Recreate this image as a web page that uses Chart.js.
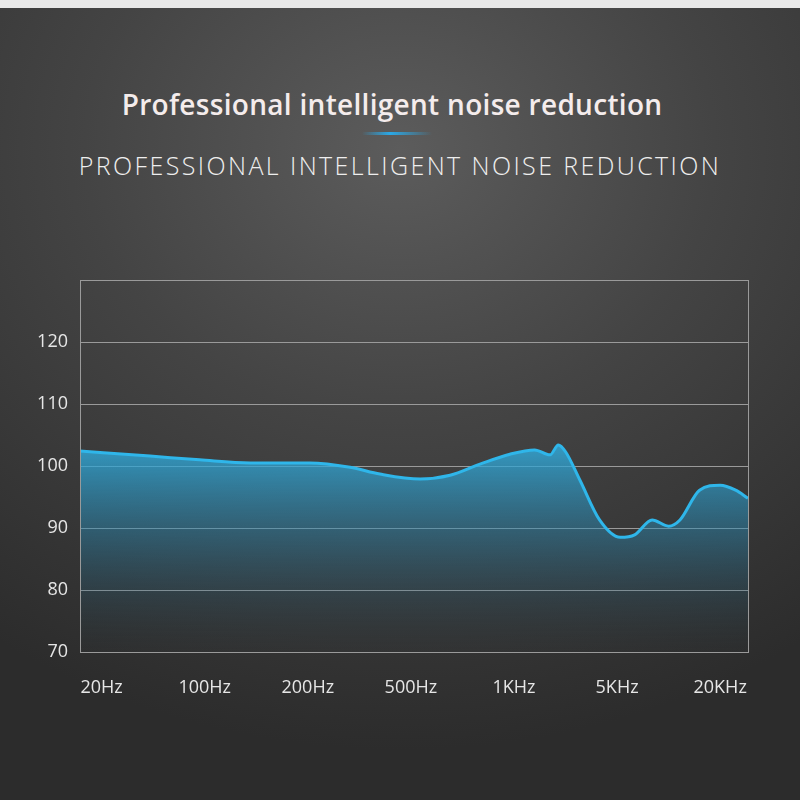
<!DOCTYPE html>
<html>
<head>
<meta charset="utf-8">
<script src="https://cdn.jsdelivr.net/npm/chart.js@4.4.0/dist/chart.umd.min.js"></script>
<style>
  html, body { margin: 0; padding: 0; }
  body {
    width: 800px; height: 800px; overflow: hidden; position: relative;
    background: radial-gradient(ellipse 700px 600px at 400px 150px, #5c5c5c 0%, #444 45%, #2c2c2c 100%);
    font-family: "Open Sans", "Noto Sans", sans-serif;
  }
  .topband { position: absolute; left: 0; top: 0; width: 800px; height: 8px; background: #e8e8e8; }
  h1 { position: absolute; top: 85px; left: 0; width: 784px; margin: 0; text-align: center;
       font-size: 28px; font-weight: 600; letter-spacing: 0.3px; color: #f4ecec; }
  .bar { position: absolute; top: 132px; left: 362px; width: 70px; height: 3px;
         background: linear-gradient(90deg, rgba(40,170,230,0), #2aa8e6 40%, rgba(40,170,230,0)); }
  h2 { position: absolute; top: 148px; left: 0; width: 800px; margin: 0; text-align: center;
       font-size: 25px; font-weight: 300; letter-spacing: 2.4px; color: #eee; }
  canvas { position: absolute; left: 0; top: 0; }
</style>
</head>
<body>
<div class="topband"></div>
<h1>Professional intelligent noise reduction</h1>
<div class="bar"></div>
<h2>PROFESSIONAL INTELLIGENT NOISE REDUCTION</h2>
<canvas id="c" width="800" height="800"></canvas>
<script>
// tick labels on the frequency axis (one per integer position)
const freqLabels = ["20Hz", "100Hz", "200Hz", "500Hz", "1KHz", "5KHz", "20KHz"];
// curve: position along the label axis and dB level
const curveX = [-0.21, 0.47, 0.95, 1.44, 2.02, 2.41, 2.7, 3.09, 3.38, 3.67, 3.96, 4.2, 4.35, 4.43, 4.5, 4.64, 4.83, 5.03, 5.17, 5.34, 5.5, 5.61, 5.8, 6.0, 6.15, 6.27];
const curveY = [102.4, 101.6, 101, 100.5, 100.5, 99.8, 98.7, 97.9, 98.5, 100.3, 101.9, 102.6, 101.8, 103.4, 102.3, 97.7, 91.3, 88.5, 88.9, 91.3, 90.3, 91.3, 96.1, 96.9, 96.1, 94.8];
const yTicks = [70, 80, 90, 100, 110, 120];

const points = curveX.map((x, i) => ({ x: x, y: curveY[i] }));

const frame = {
  id: "frame",
  afterDraw(chart) {
    const a = chart.chartArea, ctx = chart.ctx;
    ctx.save();
    ctx.strokeStyle = "#9a9a9a";
    ctx.lineWidth = 1;
    ctx.strokeRect(a.left + 0.5, a.top + 0.5, a.right - a.left, a.bottom - a.top);
    ctx.restore();
  }
};

new Chart(document.getElementById("c"), {
  type: "line",
  data: {
    datasets: [{
      data: points,
      borderColor: "#2fb6ea",
      borderWidth: 3,
      pointRadius: 0,
      tension: 0.4,
      cubicInterpolationMode: "monotone",
      fill: "start",
      backgroundColor: (ctx) => {
        const a = ctx.chart.chartArea;
        if (!a) return "rgba(40,160,210,0.5)";
        const g = ctx.chart.ctx.createLinearGradient(0, 440, 0, a.bottom);
        g.addColorStop(0, "rgba(50,175,225,0.85)");
        g.addColorStop(0.5, "rgba(40,130,170,0.4)");
        g.addColorStop(1, "rgba(40,60,70,0.05)");
        return g;
      }
    }]
  },
  options: {
    responsive: false,
    animation: false,
    layout: { padding: { top: 280, right: 52, bottom: 100, left: 0 } },
    plugins: { legend: { display: false }, tooltip: { enabled: false } },
    scales: {
      x: {
        type: "linear", min: -0.21, max: 6.27,
        afterFit: (s) => { s.height = 48; },
        afterBuildTicks: (s) => { s.ticks = freqLabels.map((_, i) => ({ value: i })); },
        ticks: {
          color: "#e6e6e6", font: { size: 18, family: "Open Sans" }, padding: 17,
          callback: (v) => freqLabels[v] ?? ""
        },
        grid: { display: false },
        border: { display: false }
      },
      y: {
        min: 70, max: 130,
        afterFit: (s) => { s.width = 80; },
        afterBuildTicks: (s) => { s.ticks = yTicks.map(v => ({ value: v })); },
        ticks: { color: "#e6e6e6", font: { size: 18, family: "Open Sans" }, padding: 12 },
        grid: { color: "#9a9a9a", drawTicks: false },
        border: { display: false }
      }
    }
  },
  plugins: [frame]
});
</script>
</body>
</html>
